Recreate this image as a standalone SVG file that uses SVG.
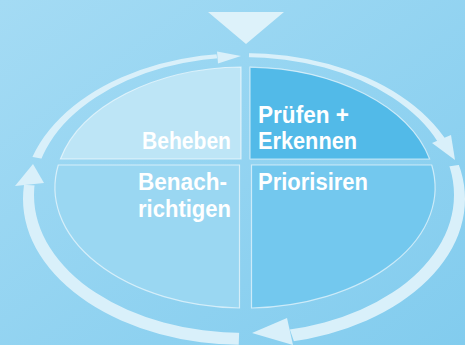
<svg xmlns="http://www.w3.org/2000/svg" width="465" height="345" viewBox="0 0 465 345">
  <defs>
    <linearGradient id="bg" x1="0" y1="0" x2="1" y2="1">
      <stop offset="0" stop-color="#A4DBF4"/>
      <stop offset="1" stop-color="#82CCEE"/>
    </linearGradient>
    <clipPath id="arcs">
      <polygon points="244,197 -389,77 -389,-223 163,-223"/>
      <polygon points="244,197 259,-229 835,-229 835,26"/>
      <polygon points="244,197 886,101 886,596 382,596"/>
      <polygon points="244,197 229,617 -404,617 -404,161"/>
    </clipPath>
    <style>
      .q { stroke: #FFFFFF; stroke-opacity: 0.6; stroke-width: 1.2; }
      .lbl { font-family: "Liberation Sans", Arial, sans-serif; font-weight: bold; font-size: 23.5px; fill: #FFFFFF; }
      .ring { fill: #D9F0FA; }
    </style>
  </defs>
  <rect x="0" y="0" width="465" height="345" fill="url(#bg)"/>

  <g id="top-marker">
    <polygon points="208,12 284,12 246,44" fill="#DDF2FA"/>
  </g>

  <g id="connectors">
    <path class="ring" clip-path="url(#arcs)" fill-rule="evenodd" d="M23,199 A221,146 0 1 0 465,199 A221,146 0 1 0 23,199 Z M34,195 A210,138 0 1 0 454,195 A210,138 0 1 0 34,195 Z"/>
    <polygon class="ring" points="217,51.5 241,56 218,63.5"/>
    <polygon class="ring" points="432,143 451,135 455,160"/>
    <polygon class="ring" points="252,333 287,318 293,345"/>
    <polygon class="ring" points="33,164 15,186 44,183"/>
  </g>

  <g id="beheben">
    <path class="q" fill="#BDE5F6" d="M241,159 L60.4,159 A190,120.5 0 0 1 241,67 Z"/>
    <text class="lbl" x="142" y="149" textLength="89" lengthAdjust="spacingAndGlyphs">Beheben</text>
  </g>
  <g id="pruefen">
    <path class="q" fill="#52BAE8" d="M250,159 L250,67.1 A190,120.5 0 0 1 429.6,159 Z"/>
    <text class="lbl" x="258" y="123" textLength="91" lengthAdjust="spacingAndGlyphs">Prüfen +</text>
    <text class="lbl" x="258" y="149" textLength="99" lengthAdjust="spacingAndGlyphs">Erkennen</text>
  </g>
  <g id="benachrichtigen">
    <path class="q" fill="#9AD7F2" d="M239.5,165 L239.5,308 A190,120.5 0 0 1 58.3,165 Z"/>
    <text class="lbl" x="138" y="190" textLength="89" lengthAdjust="spacingAndGlyphs">Benach-</text>
    <text class="lbl" x="138" y="217" textLength="93" lengthAdjust="spacingAndGlyphs">richtigen</text>
  </g>
  <g id="priorisiren">
    <path class="q" fill="#73C8EE" d="M251.5,165 L431.7,165 A190,120.5 0 0 1 251.5,308 Z"/>
    <text class="lbl" x="258" y="190" textLength="110" lengthAdjust="spacingAndGlyphs">Priorisiren</text>
  </g>
</svg>
